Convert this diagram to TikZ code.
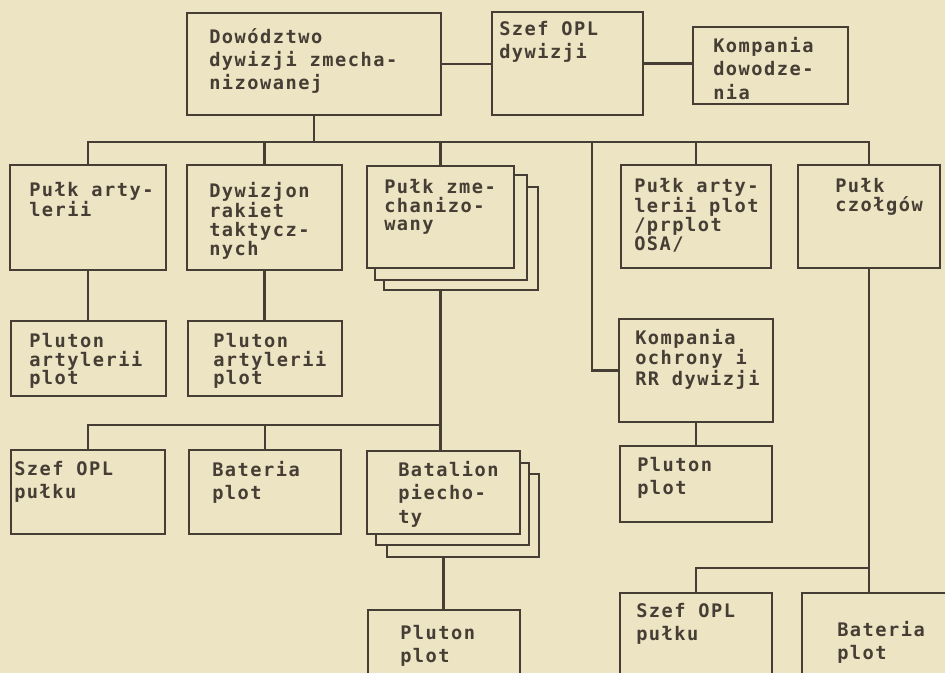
\documentclass[tikz,border=0pt]{standalone}
\usepackage{fontspec}
\newfontfamily\typewriter[LetterSpace=8]{DejaVu Sans Mono}
\definecolor{paper}{HTML}{EDE4C4}
\definecolor{ink}{HTML}{463E34}

\begin{document}
\begin{tikzpicture}[x=0.75pt,y=-0.75pt,
  unit/.style={draw=ink,line width=1.9pt,fill=paper,anchor=north west,inner sep=0pt,outer sep=0pt},
  txt/.style={anchor=north west,inner sep=0pt,align=left,text=ink,
    font=\typewriter\bfseries\fontsize{14pt}{14pt}\selectfont},
  wide/.style={font=\typewriter\bfseries\fontsize{14pt}{17.5pt}\selectfont},
  link/.style={draw=ink,line width=1.6pt}]
  \fill[paper] (0,0) rectangle (945,673);
  \path[use as bounding box,clip] (0,0) rectangle (945,673);

  \node[unit,minimum width=190.5pt,minimum height=76.5pt] (dow) at (187,13) {};
  \node[unit,minimum width=113.25pt,minimum height=77.25pt] (szefdyw) at (492,12) {};
  \node[unit,minimum width=116.25pt,minimum height=57.75pt] (kompdow) at (693,27) {};
  \node[txt,wide] (dow-t) at (209,28) {Dowództwo\\dywizji zmecha-\\nizowanej};
  \node[txt,wide] (szefdyw-t) at (499,21) {Szef OPL\\dywizji};
  \node[txt,wide] (kompdow-t) at (713,37) {Kompania\\dowodze-\\nia};

  \node[unit,minimum width=117pt,minimum height=78.75pt] (partyl) at (10,165) {};
  \node[unit,minimum width=116.25pt,minimum height=78.75pt] (dywrak) at (187,165) {};
  \node[unit,minimum width=115.5pt,minimum height=77.25pt] (pzmech-c) at (384,187) {};
  \node[unit,minimum width=114pt,minimum height=78.75pt] (pzmech-b) at (375,175) {};
  \node[unit,minimum width=110.25pt,minimum height=76.5pt] (pzmech) at (367,166) {};
  \node[unit,minimum width=112.5pt,minimum height=77.25pt] (partplot) at (621,165) {};
  \node[unit,minimum width=106.5pt,minimum height=77.25pt] (pczolg) at (798,165) {};
  \node[txt] (partyl-t) at (29,182) {Pułk arty-\\lerii};
  \node[txt] (dywrak-t) at (209,182) {Dywizjon\\rakiet\\taktycz-\\nych};
  \node[txt] (pzmech-t) at (384,179) {Pułk zme-\\chanizo-\\wany};
  \node[txt] (partplot-t) at (634,178) {Pułk arty-\\lerii plot\\/prplot\\OSA/};
  \node[txt] (pczolg-t) at (835,178) {Pułk\\czołgów};

  \node[unit,minimum width=116.25pt,minimum height=56.25pt] (plart1) at (11,321) {};
  \node[unit,minimum width=115.5pt,minimum height=56.25pt] (plart2) at (188,321) {};
  \node[unit,minimum width=115.5pt,minimum height=77.25pt] (kompochr) at (619,319) {};
  \node[unit,minimum width=114pt,minimum height=57pt] (plplot1) at (620,446) {};
  \node[txt] (plart1-t) at (29,333) {Pluton\\artylerii\\plot};
  \node[txt] (plart2-t) at (213,333) {Pluton\\artylerii\\plot};
  \node[txt] (kompochr-t) at (635,329) {Kompania\\ochrony i\\RR dywizji};
  \node[txt,wide] (plplot1-t) at (637,457) {Pluton\\plot};

  \node[unit,minimum width=115.5pt,minimum height=63pt] (szefp1) at (11,450) {};
  \node[unit,minimum width=114pt,minimum height=63pt] (bat1) at (189,450) {};
  \node[unit,minimum width=114pt,minimum height=62.25pt] (batal-c) at (387,474) {};
  \node[unit,minimum width=114.75pt,minimum height=61.5pt] (batal-b) at (376,463) {};
  \node[unit,minimum width=114.75pt,minimum height=62.25pt] (batal) at (367,451) {};
  \node[unit,minimum width=114pt,minimum height=60pt] (plplot2) at (368,610) {};
  \node[unit,minimum width=114pt,minimum height=72.75pt] (szefp2) at (620,593) {};
  \node[unit,minimum width=111pt,minimum height=72.75pt] (bat2) at (802,593) {};
  \node[txt,wide] (szefp1-t) at (14,461) {Szef OPL\\pułku};
  \node[txt,wide] (bat1-t) at (212,461) {Bateria\\plot};
  \node[txt,wide] (batal-t) at (398,461) {Batalion\\piecho-\\ty};
  \node[txt,wide] (plplot2-t) at (400,625) {Pluton\\plot};
  \node[txt,wide] (szefp2-t) at (636,603) {Szef OPL\\pułku};
  \node[txt,wide] (bat2-t) at (837,621) {Bateria\\plot};

  \coordinate (bus) at (314,142);
  \coordinate (tap) at (592,142);
  \coordinate (bus2) at (440.5,425);
  \coordinate (fork) at (869,568);
  \draw[link] (dow.east) -- (dow.east -| szefdyw.west);
  \draw[link] (szefdyw.east) -- (szefdyw.east -| kompdow.west);
  \draw[link] (dow.south) -- (dow.south |- bus);
  \draw[link] (partyl.north) |- (bus) -| (pczolg.north);
  \draw[link] (dywrak.north) -- (dywrak.north |- bus);
  \draw[link] (pzmech.north) -- (pzmech.north |- bus);
  \draw[link] (partplot.north) -- (partplot.north |- bus);
  \draw[link] (kompochr.west) -| (tap);
  \draw[link] (partyl.south) -- (partyl.south |- plart1.north);
  \draw[link] (dywrak.south) -- (dywrak.south |- plart2.north);
  \draw[link] (kompochr.south) -- (kompochr.south |- plplot1.north);
  \draw[link] (pzmech.south |- pzmech-c.south) -- (pzmech.south |- batal.north);
  \draw[link] (szefp1.north) |- (bus2);
  \draw[link] (bat1.north) -- (bat1.north |- bus2);
  \draw[link] (batal.south |- batal-c.south) -- (batal.south |- plplot2.north);
  \draw[link] (pczolg.south) -- (pczolg.south |- bat2.north);
  \draw[link] (szefp2.north) |- (fork);
\end{tikzpicture}
\end{document}
